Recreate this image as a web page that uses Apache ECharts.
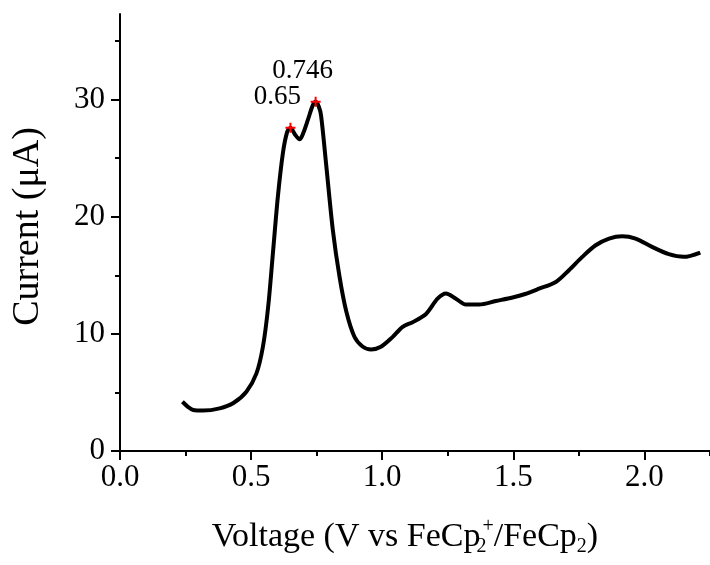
<!DOCTYPE html>
<html>
<head>
<meta charset="utf-8">
<script src="https://cdn.jsdelivr.net/npm/echarts@6/dist/echarts.min.js"></script>
<style>html,body{margin:0;padding:0;background:#fff;}#chart{width:710px;height:565px;}</style>
</head>
<body>
<div id="chart"></div>
<script>
// Data
const voltage = [0.238,0.26,0.279,0.317,0.38,0.431,0.482,0.52,0.545,0.565,0.583,0.602,0.621,0.637,0.65,0.668,0.685,0.70,0.717,0.735,0.746,0.758,0.767,0.786,0.812,0.837,0.863,0.894,0.926,0.958,0.995,1.04,1.078,1.116,1.167,1.211,1.243,1.281,1.319,1.37,1.433,1.497,1.545,1.598,1.662,1.712,1.763,1.814,1.865,1.915,1.966,2.029,2.093,2.15,2.213];
const current = [4.2,3.75,3.5,3.45,3.64,4.07,5.06,6.6,8.9,12.3,16.85,21.7,25.4,27.2,27.6,27.0,26.6,27.2,28.3,29.5,29.8,29.4,28.6,24.5,18.8,14.9,11.9,9.75,8.9,8.67,8.9,9.74,10.6,11.0,11.7,13.0,13.45,13.0,12.5,12.5,12.8,13.1,13.4,13.85,14.43,15.43,16.57,17.56,18.13,18.33,18.13,17.42,16.8,16.57,16.94];
const peakX = [0.65, 0.746];
const peakY = [27.6, 29.8];
const peakLabels = ['0.65', '0.746'];
const xMajorTicks = [0, 0.5, 1.0, 1.5, 2.0];
const xMinorTicks = [0.25, 0.75, 1.25, 1.75, 2.25];
const yMajorTicks = [0, 10, 20, 30];
const yMinorTicks = [5, 15, 25, 35];
const xMin = 0, xMax = 2.25, yMin = 0, yMax = 37.3;

const FONT = "'Liberation Serif','Times New Roman',serif";
const chart = echarts.init(document.getElementById('chart'), null, {renderer:'canvas'});

const baseX = {type:'value', min:xMin, max:xMax, position:'bottom', splitLine:{show:false}};
const baseY = {type:'value', min:yMin, max:yMax, position:'left', splitLine:{show:false}};

const option = {
  animation:false,
  backgroundColor:'#fff',
  grid:{left:120, top:14, width:591.5, height:437},
  xAxis:[
    Object.assign({}, baseX, {
      axisLine:{show:true, onZero:false, lineStyle:{color:'#000', width:2}},
      axisTick:{show:true, inside:false, length:9, lineStyle:{color:'#000', width:2}, customValues:xMajorTicks},
      axisLabel:{show:true, margin:11, color:'#000', fontFamily:FONT, fontSize:31, customValues:xMajorTicks,
        formatter:v=>Number(v).toFixed(1)},
      name:'Voltage (V vs FeCp{sub|2}{sup|+}/FeCp{sub2|2})',
      nameLocation:'middle', nameGap:66,
      nameTextStyle:{color:'#000', fontFamily:FONT, fontSize:34, lineHeight:40, padding:[0,20,0,0],
        rich:{
          sub:{fontFamily:FONT, fontSize:20, lineHeight:18, verticalAlign:'bottom', color:'#000', width:2},
          sub2:{fontFamily:FONT, fontSize:20, lineHeight:18, verticalAlign:'bottom', color:'#000'},
          sup:{fontFamily:FONT, fontSize:20, lineHeight:20, verticalAlign:'top', color:'#000'}
        }}
    }),
    Object.assign({}, baseX, {
      axisLine:{show:false, onZero:false},
      axisTick:{show:true, inside:false, length:5, lineStyle:{color:'#000', width:2}, customValues:xMinorTicks},
      axisLabel:{show:false}
    })
  ],
  yAxis:[
    Object.assign({}, baseY, {
      axisLine:{show:true, onZero:false, lineStyle:{color:'#000', width:2}},
      axisTick:{show:true, inside:false, length:9, lineStyle:{color:'#000', width:2}, customValues:yMajorTicks},
      axisLabel:{show:true, margin:15, color:'#000', fontFamily:FONT, fontSize:31, customValues:yMajorTicks,
        formatter:v=>String(Math.round(v))},
      name:'Current (\u03BCA)', nameLocation:'middle', nameRotate:90, nameGap:73,
      nameTextStyle:{color:'#000', fontFamily:FONT, fontSize:38, padding:[0,0,0,12]}
    }),
    Object.assign({}, baseY, {
      axisLine:{show:false, onZero:false},
      axisTick:{show:true, inside:false, length:5, lineStyle:{color:'#000', width:2}, customValues:yMinorTicks},
      axisLabel:{show:false}
    })
  ],
  series:[
    {
      type:'line', xAxisIndex:0, yAxisIndex:0,
      data:voltage.map((v,i)=>[v, current[i]]),
      showSymbol:false, smooth:0.3,
      lineStyle:{color:'#000', width:4},
      z:2
    },
    {
      type:'scatter', xAxisIndex:0, yAxisIndex:0,
      data:peakX.map((v,i)=>({value:[v, peakY[i]], label:{formatter:peakLabels[i]}})),
      symbol:'path://M0,5L10,5M5,0L5,10', symbolSize:10,
      itemStyle:{color:'none', borderColor:'#ff0000', borderWidth:2, opacity:1},
      label:{show:true, position:'inside', offset:[-13,-31], color:'#000', fontFamily:FONT, fontSize:27},
      z:3
    }
  ]
};
chart.setOption(option);
</script>
</body>
</html>
